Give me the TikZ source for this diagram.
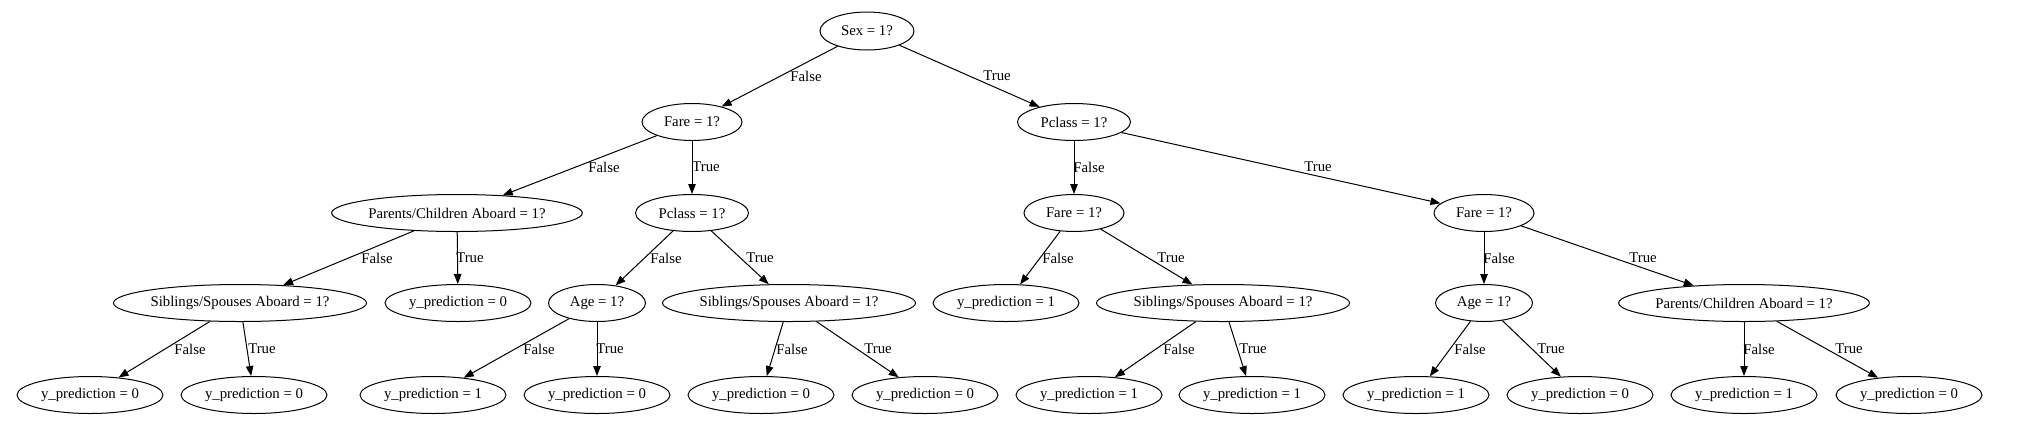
\documentclass[tikz,border=0pt]{standalone}
\usepackage{fontspec}
\setmainfont{Liberation Serif}
\usetikzlibrary{arrows.meta,shapes.geometric}
\begin{document}
\begin{tikzpicture}[x=1pt,y=-1pt,
  every node/.style={font=\fontsize{14.8pt}{17pt}\selectfont},
  nd/.style={draw,ellipse,line width=1pt,inner sep=0pt,minimum height=37pt},
  leaf/.style={nd,minimum width=146pt},
  edge/.style={line width=1pt,-{Triangle[length=10pt,width=7.5pt]}},
  lbl/.style={inner sep=0pt}]
\useasboundingbox (0,0) rectangle (2024,440);
% level 0
\node[nd,minimum width=94pt,minimum height=38pt] (root) at (867,31) {Sex = 1?};
% level 1
\node[nd,minimum width=100pt] (f1) at (692,122) {Fare = 1?};
\node[nd,minimum width=113pt] (p1) at (1074,122) {Pclass = 1?};
% level 2
\node[nd,minimum width=250pt] (pc1) at (457,213) {Parents/Children Aboard = 1?};
\node[nd,minimum width=113pt] (p2) at (692,213) {Pclass = 1?};
\node[nd,minimum width=100pt] (f2) at (1074,213) {Fare = 1?};
\node[nd,minimum width=100pt] (f3) at (1484,213) {Fare = 1?};
% level 3
\node[nd,minimum width=252pt] (s1) at (240,303) {Siblings/Spouses Aboard = 1?};
\node[leaf] (l1) at (458,303) {y\_prediction = 0};
\node[nd,minimum width=97pt] (a1) at (597,303) {Age = 1?};
\node[nd,minimum width=252pt] (s2) at (789,303) {Siblings/Spouses Aboard = 1?};
\node[leaf] (l2) at (1006,303) {y\_prediction = 1};
\node[nd,minimum width=252pt] (s3) at (1223,303) {Siblings/Spouses Aboard = 1?};
\node[nd,minimum width=97pt] (a2) at (1484,303) {Age = 1?};
\node[nd,minimum width=250pt] (pc2) at (1744,303) {Parents/Children Aboard = 1?};
% level 4
\node[leaf] (m1) at (90,395) {y\_prediction = 0};
\node[leaf] (m2) at (254,395) {y\_prediction = 0};
\node[leaf] (m3) at (433,395) {y\_prediction = 1};
\node[leaf] (m4) at (597,395) {y\_prediction = 0};
\node[leaf] (m5) at (761,395) {y\_prediction = 0};
\node[leaf] (m6) at (925,395) {y\_prediction = 0};
\node[leaf] (m7) at (1089,395) {y\_prediction = 1};
\node[leaf] (m8) at (1252,395) {y\_prediction = 1};
\node[leaf] (m9) at (1416,395) {y\_prediction = 1};
\node[leaf] (m10) at (1580,395) {y\_prediction = 0};
\node[leaf] (m11) at (1744,395) {y\_prediction = 1};
\node[leaf] (m12) at (1909,395) {y\_prediction = 0};
% edges
\draw[edge] (root) -- (f1) node[lbl] at (806,76) {False};
\draw[edge] (root) -- (p1) node[lbl] at (997,76) {True};
\draw[edge] (f1) -- (pc1) node[lbl] at (604,167) {False};
\draw[edge] (f1) -- (p2) node[lbl] at (706,167) {True};
\draw[edge] (p1) -- (f2) node[lbl] at (1089,167) {False};
\draw[edge] (p1) -- (f3) node[lbl] at (1318,167) {True};
\draw[edge] (pc1) -- (s1) node[lbl] at (377,258) {False};
\draw[edge] (pc1) -- (l1) node[lbl] at (470,258) {True};
\draw[edge] (p2) -- (a1) node[lbl] at (666,258) {False};
\draw[edge] (p2) -- (s2) node[lbl] at (760,258) {True};
\draw[edge] (f2) -- (l2) node[lbl] at (1058,258) {False};
\draw[edge] (f2) -- (s3) node[lbl] at (1171,258) {True};
\draw[edge] (f3) -- (a2) node[lbl] at (1499,258) {False};
\draw[edge] (f3) -- (pc2) node[lbl] at (1643,258) {True};
\draw[edge] (s1) -- (m1) node[lbl] at (190,349) {False};
\draw[edge] (s1) -- (m2) node[lbl] at (262,349) {True};
\draw[edge] (a1) -- (m3) node[lbl] at (539,349) {False};
\draw[edge] (a1) -- (m4) node[lbl] at (610,349) {True};
\draw[edge] (s2) -- (m5) node[lbl] at (792,349) {False};
\draw[edge] (s2) -- (m6) node[lbl] at (878,349) {True};
\draw[edge] (s3) -- (m7) node[lbl] at (1179,349) {False};
\draw[edge] (s3) -- (m8) node[lbl] at (1253,349) {True};
\draw[edge] (a2) -- (m9) node[lbl] at (1470,349) {False};
\draw[edge] (a2) -- (m10) node[lbl] at (1551,349) {True};
\draw[edge] (pc2) -- (m11) node[lbl] at (1759,349) {False};
\draw[edge] (pc2) -- (m12) node[lbl] at (1849,349) {True};
\end{tikzpicture}
\end{document}
